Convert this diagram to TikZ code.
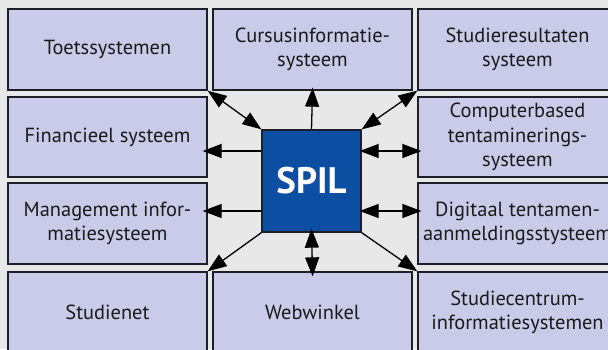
\documentclass[tikz,border=0pt]{standalone}
\usepackage{fontspec}
\setmainfont{PT Sans}
\usetikzlibrary{arrows.meta,calc}
\definecolor{bgc}{HTML}{E8E8E8}
\definecolor{boxc}{HTML}{C9CBE8}
\definecolor{spilc}{HTML}{0B4EA2}
\definecolor{edgec}{HTML}{1E1E28}
\definecolor{txtc}{HTML}{1A1A1A}
\tikzset{
  sysbox/.style={draw=edgec, line width=1.3bp, fill=boxc, minimum width=199bp, minimum height=81bp,
    inner sep=0pt, align=center, text=txtc, font=\fontsize{20.5}{24.5}\selectfont},
  spilbox/.style={draw=edgec, line width=1.3bp, fill=spilc, minimum width=99bp, minimum height=102bp,
    inner sep=0pt, text=white, font=\fontsize{37}{42}\selectfont\bfseries},
  conn/.style={line width=1.3bp, draw=black},
  tipend/.style={conn, -{Triangle[length=19bp,width=14bp]}},
  tipboth/.style={conn, {Triangle[length=19bp,width=14bp]}-{Triangle[length=19bp,width=14bp]}},
}
\begin{document}
\begin{tikzpicture}[x=1bp,y=-1bp]
\useasboundingbox (0,0) rectangle (608,349);
\clip (0,0) rectangle (608,349);
\fill[bgc] (0,0) rectangle (608,349);
% column centres 107.5, 312.5, 517.5 ; row centres 49.5, 137, 223.5, 312.5
\node[sysbox] (toets) at (107.5,49.5) {Toetssystemen};
\node[sysbox] (curs) at (312.5,49.5) {Cursusinformatie-\\systeem};
\node[sysbox] (stud) at (517.5,49.5) {Studieresultaten\\systeem};
\node[sysbox, minimum height=80bp] (fin) at (107.5,137) {Financieel systeem};
\node[sysbox, minimum height=80bp] (comp) at (517.5,137) {Computerbased\\tentaminerings-\\systeem};
\node[sysbox] (mgmt) at (107.5,223.5) {Management infor-\\matiesysteem};
\node[sysbox] (digi) at (517.5,223.5) {Digitaal tentamen-\\aanmeldingsstysteem};
\node[sysbox] (net) at (107.5,312.5) {Studienet};
\node[sysbox] (web) at (312.5,312.5) {Webwinkel};
\node[sysbox] (centr) at (517.5,312.5) {Studiecentrum-\\informatiesystemen};
\node[spilbox] (spil) at (311.5,181) {SPIL};
% connector anchor points on SPIL
\coordinate (sl1) at ([yshift=30bp]spil.west);
\coordinate (sl2) at ([yshift=-30bp]spil.west);
\coordinate (sr1) at ([yshift=30bp]spil.east);
\coordinate (sr2) at ([yshift=-30bp]spil.east);
% connectors
\draw[tipboth] (spil.north west) -- (toets.south east);
\draw[tipend, shorten >=-3bp] (spil.north) -- (curs.south);
\draw[tipboth] (spil.north east) -- (stud.south west);
\draw[tipend, shorten >=-5bp] (sl1) -- (sl1 -| fin.east);
\draw[tipboth, shorten <=-2bp, shorten >=-4bp] (sr1) -- (sr1 -| comp.west);
\draw[tipend, shorten >=-5bp] (sl2) -- (sl2 -| mgmt.east);
\draw[tipboth, shorten <=-2bp, shorten >=-4bp] (sr2) -- (sr2 -| digi.west);
\draw[tipend] (spil.south west) -- (net.north east);
\draw[tipboth, shorten <=-4bp, shorten >=-5bp] (spil.south) -- (web.north);
\draw[tipend] (spil.south east) -- (centr.north west);
\end{tikzpicture}
\end{document}
